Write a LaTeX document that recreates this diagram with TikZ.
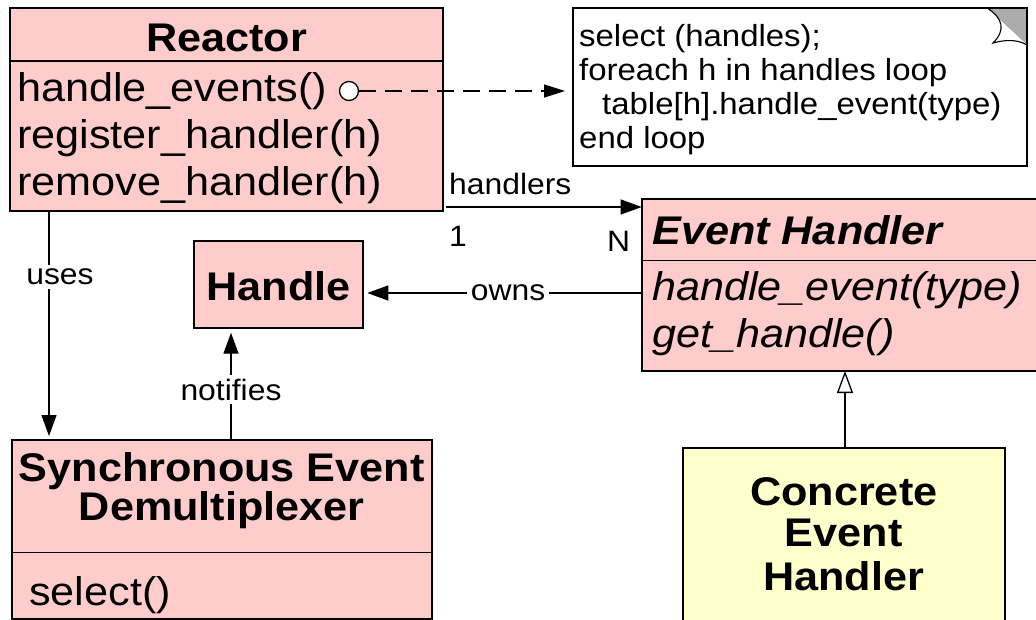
\documentclass[tikz,border=0pt]{standalone}
\usepackage{fontspec}
\setmainfont[FakeStretch=1.08]{Liberation Sans}
\usetikzlibrary{arrows.meta,shapes.geometric}
\definecolor{umlpink}{HTML}{FFCCCC}
\definecolor{umlyellow}{HTML}{FFFFCC}
\begin{document}
\begin{tikzpicture}[x=1pt,y=-1pt,
  box/.style={draw=black, line width=1.8pt, fill=umlpink, anchor=north west, inner sep=0pt, outer sep=0pt},
  sep/.style={line width=1.4pt},
  big/.style={font=\fontsize{40}{48}\selectfont, inner sep=0pt},
  bigb/.style={font=\fontsize{40}{48}\selectfont\bfseries, inner sep=0pt},
  bigi/.style={font=\fontsize{40}{48}\selectfont\itshape, inner sep=0pt},
  bigbi/.style={font=\fontsize{40}{48}\selectfont\bfseries\itshape, inner sep=0pt},
  notetext/.style={font=\fontsize{30.5}{36}\selectfont, inner sep=0pt, anchor=base west},
  lab/.style={font=\fontsize{29.5}{35}\selectfont, inner sep=0pt},
  labw/.style={lab, fill=white, inner sep=4pt},
  conn/.style={line width=1.3pt},
  arr/.style={conn, -{Triangle[length=21pt,width=15pt]}},
  inh/.style={conn, -{Triangle[open,length=22pt,width=16pt,line width=1.3pt]}},
]
\path[use as bounding box] (0,0) rectangle (1036,620);
\clip (0,0) rectangle (1036,620);

% ---------- Reactor ----------
\node[box, minimum width=433pt, minimum height=203pt] (Reactor) at (10,8) {};
\draw[sep] (10,61) -- (443,61);
\node[bigb, anchor=base] (rt) at (226.5,52) {Reactor};
\node[big, anchor=base west] (rm1) at (17,102) {handle\_events()};
\node[big, anchor=base west] (rm2) at (17,149) {register\_handler(h)};
\node[big, anchor=base west] (rm3) at (17,196) {remove\_handler(h)};
\node[draw, fill=white, circle, line width=1.3pt, minimum size=19pt, inner sep=0pt] (dot) at (349,91) {};

% ---------- Note ----------
\node[draw, line width=1.6pt, fill=white, anchor=north west, minimum width=454pt, minimum height=158pt, inner sep=0pt, outer sep=0pt] (note) at (573,8) {};
\fill[gray!65] (987,8) -- (1027,8) -- (1027,45) -- cycle;
\fill[white] (987,8) .. controls (1003,18) and (1006,30) .. (993,43) .. controls (1007,39) and (1019,40) .. (1027,45) -- cycle;
\draw[line width=1.1pt] (987,8) .. controls (1003,18) and (1006,30) .. (993,43) .. controls (1007,39) and (1019,40) .. (1027,45);
\draw[line width=1.6pt] (987,8) -- (1027,8) -- (1027,45);
\node[notetext] (n1) at (579,47) {select (handles);};
\node[notetext] (n2) at (579,81) {foreach h in handles loop};
\node[notetext] (n3) at (602,115) {table[h].handle\_event(type)};
\node[notetext] (n4) at (579,149) {end loop};

% ---------- Event Handler ----------
\node[box, minimum width=405pt, minimum height=171.7pt] (EH) at (641.7,199.3) {};
\draw[sep] (641.7,260.7) -- (1040,260.7);
\node[bigbi, anchor=base west] (eht) at (652,245) {Event Handler};
\node[bigi, anchor=base west] (ehm1) at (652,301) {handle\_event(type)};
\node[bigi, anchor=base west] (ehm2) at (652,347) {get\_handle()};

% ---------- Handle ----------
\node[box, minimum width=169pt, minimum height=86.7pt] (Handle) at (194.3,241) {};
\node[bigb, anchor=base] (ht) at (278.8,301) {Handle};

% ---------- Synchronous Event Demultiplexer ----------
\node[box, minimum width=420.3pt, minimum height=179pt] (SED) at (11.7,440) {};
\draw[sep] (11.7,552.7) -- (432,552.7);
\node[bigb, anchor=base] (st1) at (221.8,481.7) {Synchronous Event};
\node[bigb, anchor=base] (st2) at (221.8,520) {Demultiplexer};
\node[big, anchor=base west] (sm1) at (29,605) {select()};

% ---------- Concrete Event Handler ----------
\node[box, fill=umlyellow, minimum width=322.3pt, minimum height=190pt] (CEH) at (682.7,448.3) {};
\node[bigb, anchor=base] (ct1) at (843.8,505) {Concrete};
\node[bigb, anchor=base] (ct2) at (843.8,546.7) {Event};
\node[bigb, anchor=base] (ct3) at (843.8,590) {Handler};

% ---------- Connectors ----------
\coordinate (hy) at (0,207);
\coordinate (oy) at (0,293);
\coordinate (ux) at (49,0);
\coordinate (nx) at (231,0);
\coordinate (ix) at (845,0);

\draw[conn, dash pattern=on 17pt off 9pt, -{Triangle[length=21pt,width=13pt]}, shorten >=8pt]
  (dot.east) -- (dot.east -| note.west);

\draw[arr, shorten <=3pt] (Reactor.east |- hy) -- (EH.west |- hy);
\node[lab, anchor=base west] (lh) at (449,195) {handlers};
\node[lab, anchor=base west] (l1) at (449,247) {1};
\node[lab, anchor=base west] (lN) at (607,252) {N};

\draw[arr, shorten >=4pt] (EH.west |- oy) -- node[labw, pos=0.48] (lo) {owns} (Handle.east |- oy);

\draw[arr, shorten >=4pt] (ux |- Reactor.south) -- node[labw, anchor=base, pos=0.323, xshift=11pt] (lu) {uses} (ux |- SED.north);

\draw[arr, shorten >=5pt] (nx |- SED.north) -- node[labw, anchor=base, pos=0.356] (ln) {notifies} (nx |- Handle.south);

\draw[inh] (ix |- CEH.north) -- (ix |- EH.south);
\end{tikzpicture}
\end{document}
